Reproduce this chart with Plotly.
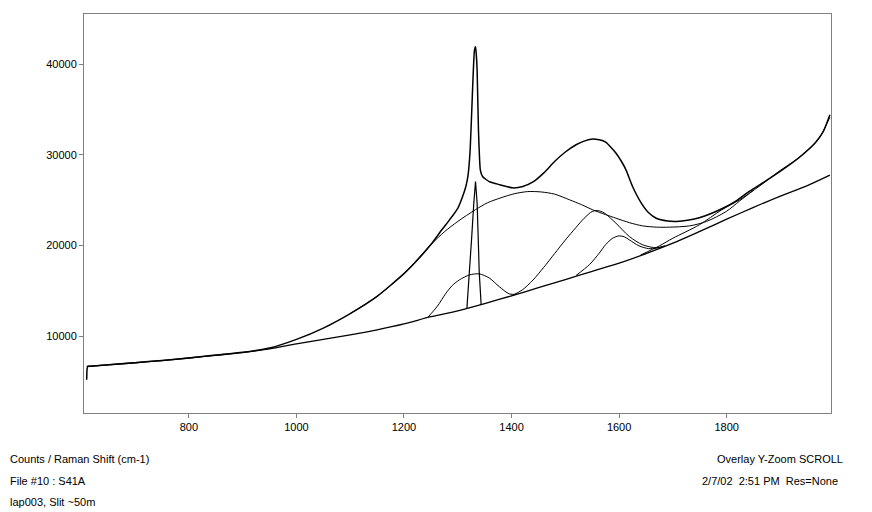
import plotly.graph_objects as go

# ---- data (Raman shift cm-1 / counts) ----
data_x = [610, 611, 613, 616, 650, 700, 750, 800, 850, 900, 950, 1000, 1050, 1100,
          1150, 1200, 1225, 1250, 1270, 1285, 1300, 1309, 1315, 1319, 1323, 1327,
          1331, 1333, 1334.5, 1336, 1338.5, 1342, 1346, 1352, 1360, 1378, 1402,
          1421, 1440, 1460, 1480, 1500, 1520, 1535, 1548, 1563, 1575, 1594,
          1605, 1613, 1625, 1641, 1655, 1669, 1690, 1706, 1730, 1749, 1770, 1793,
          1820, 1842, 1870, 1904, 1935, 1966, 1980, 1992]
data_y = [5200, 6500, 6700, 6680, 6860, 7090, 7330, 7610, 7920, 8230, 8700, 9650, 10900, 12500,
          14400, 16900, 18400, 20100, 21700, 22850, 24100, 25400, 26500, 27700, 30500, 36400,
          41500, 41900, 41000, 39300, 32700, 28300, 27600, 27300, 27000, 26700, 26350,
          26500, 27000, 28000, 29250, 30300, 31100, 31500, 31720, 31650, 31400, 30200,
          29200, 28300, 26500, 24700, 23600, 23000, 22700, 22650, 22800, 23050, 23500, 24100,
          25000, 25950, 27000, 28350, 29700, 31400, 32600, 34400]

baseline_x = [610, 650, 700, 750, 800, 850, 900, 950, 1000, 1050, 1100, 1150, 1200,
              1250, 1300, 1350, 1400, 1450, 1500, 1550, 1600, 1650, 1700, 1750, 1800,
              1850, 1900, 1950, 1992]
baseline_y = [6670, 6850, 7080, 7320, 7600, 7900, 8200, 8600, 9150, 9650, 10150, 10700, 11350,
              12150, 12800, 13600, 14450, 15350, 16250, 17150, 18050, 19100, 20250, 21550, 22900,
              24200, 25450, 26600, 27750]

broad_x = [1100, 1150, 1200, 1250, 1275, 1300, 1333, 1355, 1380, 1405, 1430, 1455, 1480,
           1508, 1530, 1551, 1575, 1594, 1620, 1644, 1670, 1694, 1731, 1762, 1799, 1824, 1850]
broad_y = [12500, 14400, 16900, 20100, 21500, 22650, 23950, 24700, 25250, 25700, 25940, 25900, 25660,
           25030, 24500, 23930, 23400, 23010, 22500, 22160, 22020, 22020, 22160, 22640, 23740, 24900, 26100]

dbroad_x = [1245, 1262, 1278, 1290, 1303, 1322, 1340, 1359, 1377, 1396, 1410]
dbroad_y = [12130, 13300, 14740, 15600, 16210, 16760, 16870, 16400, 15470, 14660, 14620]

dnarrow_x = [1317, 1322, 1326, 1329.8, 1333, 1336, 1338, 1340, 1343.5]
dnarrow_y = [13100, 16950, 21000, 24660, 27050, 24660, 20800, 16950, 13450]

g_x = [1400, 1420, 1440, 1460, 1480, 1500, 1520, 1535, 1550, 1560, 1572, 1594, 1619, 1644, 1669, 1685]
g_y = [14450, 15100, 16200, 17600, 19100, 20600, 22000, 23000, 23750, 23850, 23600, 22460, 20990, 20070, 19750, 19950]

p_x = [1520, 1545, 1563, 1575, 1588, 1600, 1610, 1619, 1637, 1655, 1669, 1685]
p_y = [16700, 17900, 19150, 20100, 20800, 21060, 20950, 20620, 19960, 19650, 19700, 19950]

right_x = [1640, 1675, 1700, 1749, 1790, 1824, 1860, 1898, 1930, 1960, 1975, 1992]
right_y = [18950, 19960, 20800, 22270, 23900, 25030, 26500, 28200, 29500, 31000, 32100, 34150]

x_ticks = [800, 1000, 1200, 1400, 1600, 1800]
y_ticks = [10000, 20000, 30000, 40000]

fig = go.Figure()

def add(x, y, width, shape="spline", smooth=0.8):
    line = dict(color="black", width=width, shape=shape)
    if shape == "spline":
        line["smoothing"] = smooth
    fig.add_trace(go.Scatter(x=x, y=y, mode="lines", line=line, hoverinfo="skip"))

add(baseline_x, baseline_y, 1.3)
add(broad_x, broad_y, 1)
add(dbroad_x, dbroad_y, 1)
add(dnarrow_x, dnarrow_y, 1.2, shape="linear")
add(g_x, g_y, 1)
add(p_x, p_y, 1)
add(right_x, right_y, 1)
add(data_x, data_y, 1.5, smooth=0.5)

font = dict(family="Liberation Sans, Arial, sans-serif", size=11, color="black")

# page body has an 8px margin: figure is 864x504 so the plot box lands at 84..831 / 14..413
fig.update_layout(
    width=864, height=504,
    margin=dict(l=76, r=41, t=6, b=99),
    paper_bgcolor="white", plot_bgcolor="white",
    showlegend=False,
    font=font,
    xaxis=dict(range=[605, 1994], tickvals=x_ticks, ticktext=[str(v) for v in x_ticks],
               showgrid=False, zeroline=False, showline=True, linecolor="#808080",
               linewidth=1, mirror=True, ticks="outside", ticklen=4, tickcolor="#808080",
               tickfont=font),
    yaxis=dict(range=[1540, 45510], tickvals=y_ticks, ticktext=[str(v) for v in y_ticks],
               showgrid=False, zeroline=False, showline=True, linecolor="#808080",
               linewidth=1, mirror=True, ticks="outside", ticklen=4, tickcolor="#808080",
               tickfont=font),
)

def note(text, px, py, anchor):
    # px, py are page pixel positions in the reference
    fig.add_annotation(text=text, xref="paper", yref="paper",
                       x=(px - 84) / 747, y=(413 - py) / 399,
                       xanchor=anchor, yanchor="middle", showarrow=False, font=font)

note("Counts / Raman Shift (cm-1)", 8, 459, "left")
note("File #10 : S41A", 8, 481, "left")
note("lap003, Slit ~50m", 8, 502, "left")
note("Overlay Y-Zoom SCROLL", 845, 459, "right")
note("2/7/02\u00a0\u00a02:51 PM\u00a0\u00a0Res=None", 840, 481, "right")

fig.write_html("out.html")
